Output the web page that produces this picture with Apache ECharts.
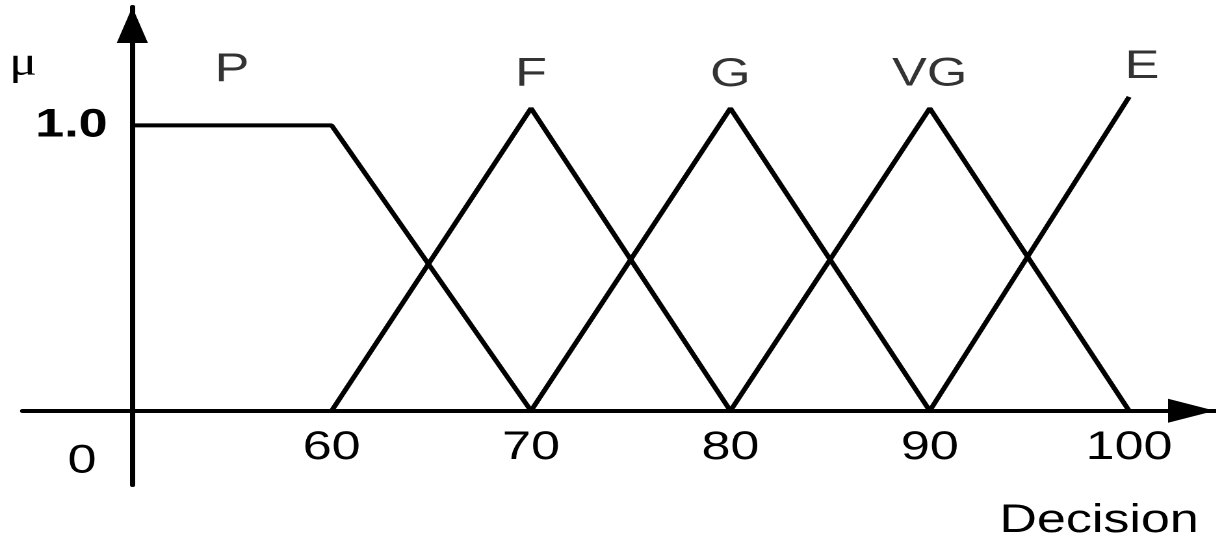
<!DOCTYPE html>
<html>
<head>
<meta charset="utf-8">
<script src="https://cdn.jsdelivr.net/npm/echarts@6/dist/echarts.min.js"></script>
<style>
  html, body { margin: 0; padding: 0; background: #fff; overflow: hidden; }
  #main { height: 549px; transform-origin: 0 0; }
</style>
</head>
<body>
<div id="main"></div>
<script>
// the original figure is stretched sideways, so the chart is drawn narrow and widened
var STRETCH = 1.3;
var main = document.getElementById('main');
main.style.width = (1216 / STRETCH) + 'px';
main.style.transform = 'scaleX(' + STRETCH + ')';

// membership functions
var poor = [[50, 1.0], [60, 1.0], [70, 0]];
var fair = [[60, 0], [70, 1.06], [80, 0]];
var good = [[70, 0], [80, 1.06], [90, 0]];
var veryGood = [[80, 0], [90, 1.06], [100, 0]];
var excellent = [[90, 0], [100, 1.1]];

// set names and where they sit
var setNames = ['P', 'F', 'G', 'VG', 'E'];
var setNameX = [55, 70, 80, 90, 100.65];
var setNameY = [1.194, 1.178, 1.177, 1.178, 1.205];

var xTicks = [60, 70, 80, 90, 100];
var yTicks = [1];

var FONT = 'Liberation Sans';

var myChart = echarts.init(main, null, { devicePixelRatio: 2 });

function lineSeries(name, data) {
    return {
        name: name,
        type: 'line',
        data: data,
        symbol: 'none',
        silent: true,
        lineStyle: { color: '#000', width: 4 },
        z: 3
    };
}

var option = {
    animation: false,
    backgroundColor: '#fff',
    grid: { left: 17.4, right: 0.5, top: 7, bottom: 64, containLabel: false },
    xAxis: {
        type: 'value',
        min: 44.5,
        max: 104.3,
        position: 'bottom',
        offset: -74.2,   // lift the axis up to mu = 0
        axisLine: {
            onZero: false,
            symbol: ['none', 'triangle'],
            symbolSize: [24, 36],
            symbolOffset: [0, -18],
            lineStyle: { color: '#000', width: 4 }
        },
        axisTick: { show: false },
        splitLine: { show: false },
        axisLabel: {
            customValues: xTicks,
            margin: 17,
            color: '#000',
            fontFamily: FONT,
            fontSize: 40
        }
    },
    yAxis: {
        type: 'value',
        min: -0.26,
        max: 1.415,
        offset: -84.37,
        axisLine: {
            show: true,
            onZero: false,
            symbol: ['none', 'triangle'],
            symbolSize: [24, 36],
            symbolOffset: [0, -18],
            lineStyle: { color: '#000', width: 4 }
        },
        axisTick: { show: false },
        splitLine: { show: false },
        axisLabel: {
            customValues: yTicks,
            formatter: function (v) { return v.toFixed(1); },
            margin: 19,
            padding: [13, 0, 0, 0],
            color: '#000',
            fontFamily: FONT,
            fontWeight: 'bold',
            fontSize: 40
        }
    },
    graphic: [
        {
            type: 'text', x: 17.7, y: 64, silent: true,
            style: { text: 'μ', fill: '#000', font: '40px "Liberation Serif"', align: 'center', verticalAlign: 'middle' }
        },
        {
            type: 'text', x: 63.1, y: 461.5, silent: true,
            style: { text: '0', fill: '#000', font: '40px "Liberation Sans"', align: 'center', verticalAlign: 'middle' }
        },
        {
            type: 'text', x: 845.4, y: 521, silent: true,
            style: { text: 'Decision', fill: '#000', font: '40px "Liberation Sans"', align: 'center', verticalAlign: 'middle' }
        }
    ],
    series: [
        lineSeries('P', poor),
        lineSeries('F', fair),
        lineSeries('G', good),
        lineSeries('VG', veryGood),
        lineSeries('E', excellent),
        {
            type: 'scatter',
            silent: true,
            symbolSize: 0,
            data: setNames.map(function (n, i) {
                return { name: n, value: [setNameX[i], setNameY[i]] };
            }),
            label: {
                show: true,
                position: 'inside',
                formatter: '{b}',
                color: '#000',
                fontFamily: FONT,
                fontSize: 40
            }
        }
    ]
};

myChart.setOption(option);
</script>
</body>
</html>
